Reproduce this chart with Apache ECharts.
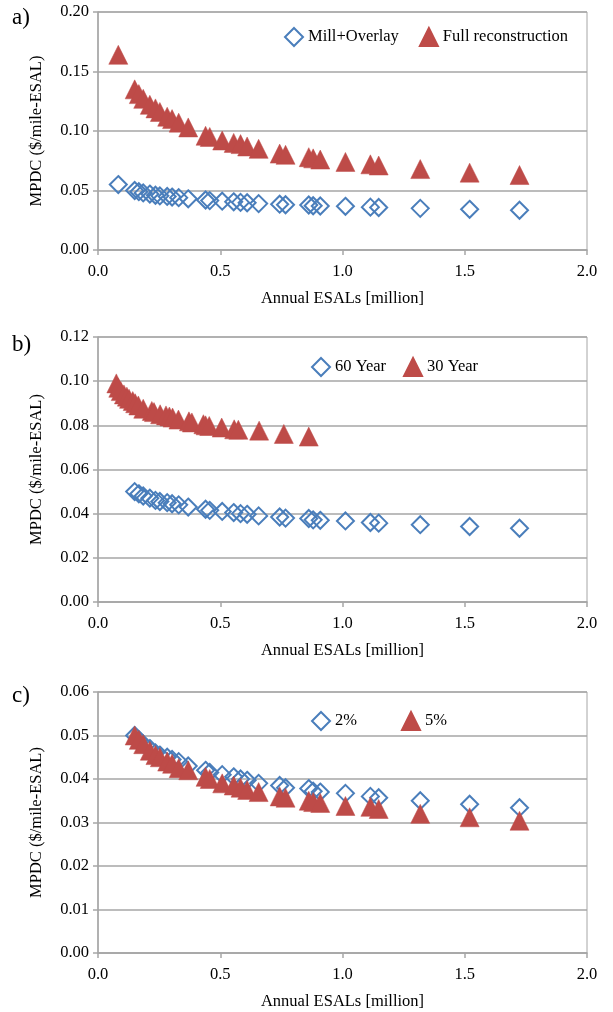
<!DOCTYPE html>
<html>
<head>
<meta charset="utf-8">
<script src="https://cdn.jsdelivr.net/npm/echarts@6/dist/echarts.min.js"></script>
<style>
  html, body { margin: 0; padding: 0; background: #fff; }
  #chart { width: 613px; height: 1012px; }
</style>
</head>
<body>
<div id="chart"></div>
<script>
// Annual ESALs (million) shared by the panels
const esalsA = [0.083, 0.150, 0.167, 0.185, 0.212, 0.235, 0.253, 0.283, 0.303, 0.330, 0.369,
  0.440, 0.457, 0.508, 0.555, 0.583, 0.610, 0.657, 0.743, 0.767, 0.862, 0.880, 0.909,
  1.012, 1.114, 1.148, 1.318, 1.520, 1.724];
const esals = [0.150, 0.167, 0.185, 0.212, 0.235, 0.253, 0.283, 0.303, 0.330, 0.369,
  0.440, 0.457, 0.508, 0.555, 0.583, 0.610, 0.657, 0.743, 0.767, 0.862, 0.880, 0.909,
  1.012, 1.114, 1.148, 1.318, 1.520, 1.724];
const esals30 = [0.075, 0.083, 0.093, 0.106, 0.118, 0.127, 0.142, 0.152, 0.165, 0.185,
  0.220, 0.229, 0.254, 0.278, 0.292, 0.305, 0.329, 0.372, 0.384, 0.431, 0.440, 0.455,
  0.506, 0.557, 0.574, 0.659, 0.760, 0.862];

// a) MPDC by treatment
const millOverlay = [0.055, 0.050, 0.049, 0.048, 0.047, 0.046, 0.0455, 0.045, 0.0445, 0.044, 0.043,
  0.042, 0.0415, 0.041, 0.0405, 0.040, 0.0397, 0.039, 0.0385, 0.038, 0.0378, 0.0372, 0.037,
  0.0367, 0.036, 0.0357, 0.035, 0.0342, 0.0334];
const fullRecon = [0.164, 0.135, 0.131, 0.127, 0.122, 0.119, 0.116, 0.112, 0.110, 0.107, 0.103,
  0.096, 0.095, 0.092, 0.090, 0.089, 0.087, 0.085, 0.081, 0.080, 0.078, 0.077, 0.076,
  0.074, 0.072, 0.071, 0.068, 0.065, 0.063];

// b) MPDC by analysis period
const year60 = [0.050, 0.049, 0.048, 0.047, 0.046, 0.0455, 0.045, 0.0445, 0.044, 0.043,
  0.042, 0.0415, 0.041, 0.0405, 0.040, 0.0397, 0.039, 0.0385, 0.038, 0.0378, 0.0372, 0.037,
  0.0367, 0.036, 0.0357, 0.035, 0.0342, 0.0334];
const year30 = [0.099, 0.097, 0.0955, 0.094, 0.093, 0.092, 0.091, 0.090, 0.089, 0.0875,
  0.0865, 0.086, 0.085, 0.0845, 0.084, 0.0835, 0.0826, 0.0818, 0.0813, 0.0805, 0.0800, 0.0797,
  0.0790, 0.0782, 0.0780, 0.0776, 0.0761, 0.0749];

// c) MPDC by discount rate
const rate2 = [0.050, 0.049, 0.048, 0.047, 0.046, 0.0455, 0.045, 0.0445, 0.044, 0.043,
  0.042, 0.0415, 0.041, 0.0405, 0.040, 0.0397, 0.039, 0.0385, 0.038, 0.0378, 0.0372, 0.037,
  0.0367, 0.036, 0.0357, 0.035, 0.0342, 0.0334];
const rate5 = [0.050, 0.049, 0.048, 0.0465, 0.0455, 0.045, 0.044, 0.0435, 0.0425, 0.042,
  0.0405, 0.040, 0.039, 0.0385, 0.038, 0.0375, 0.037, 0.036, 0.0357, 0.035, 0.0347, 0.0345,
  0.0338, 0.0336, 0.0331, 0.032, 0.0312, 0.0304];

const panelLabels = ['a)', 'b)', 'c)'];
const yMax = [0.20, 0.12, 0.06];
const yStep = [0.05, 0.02, 0.01];

const FONT = 'Liberation Serif';
const BLUE = '#4a7ebb';
const RED = '#be4b48';
const GRID = '#a6a6a6';

const zip = (xs, ys) => xs.map((x, i) => [x, ys[i]]);

const grids = [
  { left: 98, right: 26, top: 12, height: 238 },
  { left: 98, right: 26, top: 337, height: 265 },
  { left: 98, right: 26, top: 692, height: 261 }
].map(g => Object.assign(g, { show: true, borderColor: GRID, borderWidth: 1 }));

const xAxes = grids.map((g, i) => ({
  type: 'value', gridIndex: i, min: 0, max: 2, interval: 0.5,
  name: 'Annual ESALs [million]', nameLocation: 'middle', nameGap: 40,
  nameTextStyle: { fontFamily: FONT, fontSize: 16.5, color: '#000' },
  axisLine: { show: true, lineStyle: { color: GRID, width: 1.5 } },
  axisTick: { show: true, length: 5, lineStyle: { color: GRID, width: 1.5 } },
  axisLabel: { fontFamily: FONT, fontSize: 16.5, color: '#000', margin: 13,
    formatter: v => v.toFixed(1) },
  splitLine: { show: false }
}));

const yAxes = grids.map((g, i) => ({
  type: 'value', gridIndex: i, min: 0, max: yMax[i], interval: yStep[i],
  name: 'MPDC ($/mile-ESAL)', nameLocation: 'middle', nameGap: 53,
  nameTextStyle: { fontFamily: FONT, fontSize: 16.5, color: '#000' },
  axisLine: { show: true, lineStyle: { color: GRID, width: 1.5 } },
  axisTick: { show: true, length: 5, lineStyle: { color: GRID, width: 1.5 } },
  axisLabel: { fontFamily: FONT, fontSize: 16.5, color: '#000', margin: 9,
    formatter: v => v.toFixed(2) },
  splitLine: { show: true, lineStyle: { color: GRID, width: 1.5 } }
}));

const diamond = (name, idx, data) => ({
  name, type: 'scatter', xAxisIndex: idx, yAxisIndex: idx, data,
  symbol: 'diamond', symbolSize: 17,
  itemStyle: { color: 'rgba(0,0,0,0)', borderColor: BLUE, borderWidth: 2, opacity: 1 },
  emphasis: { disabled: true }
});
const triangle = (name, idx, data) => ({
  name, type: 'scatter', xAxisIndex: idx, yAxisIndex: idx, data,
  symbol: 'triangle', symbolSize: 19,
  itemStyle: { color: RED, borderColor: RED, borderWidth: 0.5, opacity: 1 },
  emphasis: { disabled: true }
});

const legendBase = {
  orient: 'horizontal', itemWidth: 18, itemHeight: 18, itemGap: 20,
  textStyle: { fontFamily: FONT, fontSize: 16.5, color: '#000' }
};
const diamondIcon = { icon: 'diamond', itemStyle: { color: '#fff', borderColor: BLUE, borderWidth: 2 } };

const option = {
  animation: false,
  grid: grids,
  xAxis: xAxes,
  yAxis: yAxes,
  legend: [
    Object.assign({}, legendBase, { left: 279, top: 22, data: [
      Object.assign({ name: 'Mill+Overlay' }, diamondIcon),
      { name: 'Full reconstruction', icon: 'triangle' }] }),
    Object.assign({}, legendBase, { left: 306, top: 352, itemGap: 17, data: [
      Object.assign({ name: '60 Year' }, diamondIcon),
      { name: '30 Year', icon: 'triangle' }] }),
    Object.assign({}, legendBase, { left: 306, top: 706, itemGap: 44, data: [
      Object.assign({ name: '2%' }, diamondIcon),
      { name: '5%', icon: 'triangle' }] })
  ],
  graphic: panelLabels.map((t, i) => ({
    type: 'text', left: 12, top: [6, 333, 684][i],
    style: { text: t, fontFamily: FONT, fontSize: 23, fill: '#000' }
  })),
  series: [
    diamond('Mill+Overlay', 0, zip(esalsA, millOverlay)),
    triangle('Full reconstruction', 0, zip(esalsA, fullRecon)),
    diamond('60 Year', 1, zip(esals, year60)),
    triangle('30 Year', 1, zip(esals30, year30)),
    diamond('2%', 2, zip(esals, rate2)),
    triangle('5%', 2, zip(esals, rate5))
  ]
};

const chart = echarts.init(document.getElementById('chart'), null, { renderer: 'canvas' });
chart.setOption(option);
</script>
</body>
</html>
